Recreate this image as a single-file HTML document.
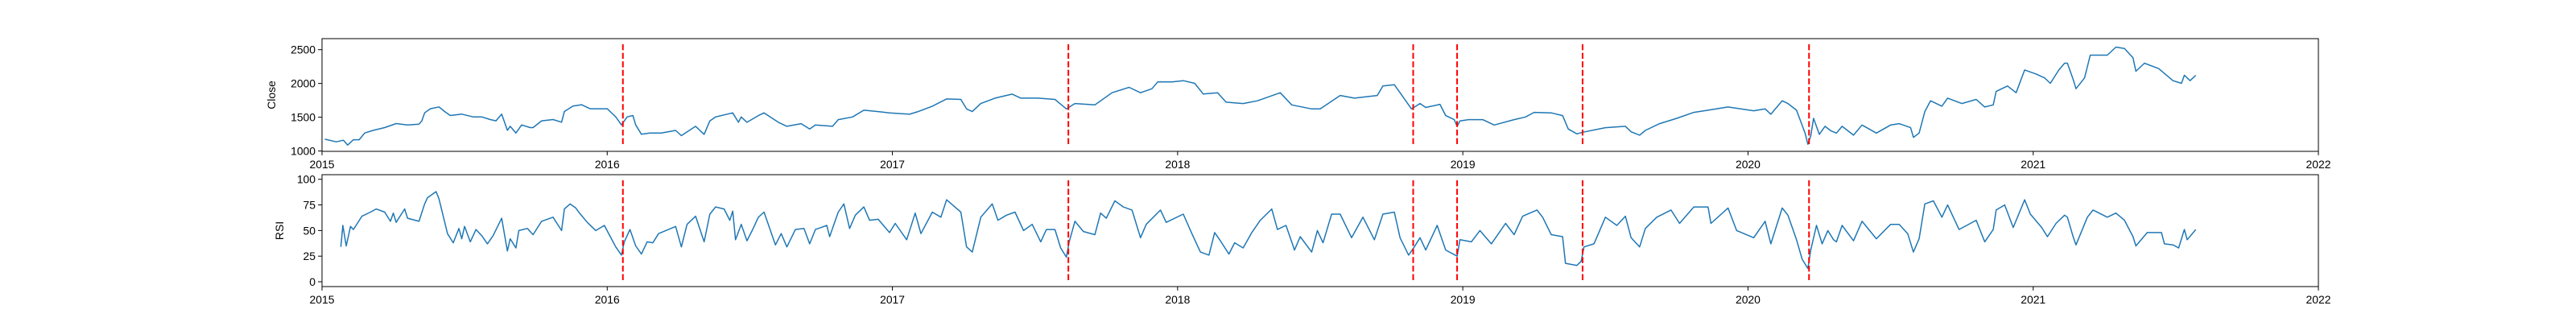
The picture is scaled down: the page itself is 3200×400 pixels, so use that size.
<!DOCTYPE html>
<html><head><meta charset="utf-8"><style>
html,body{margin:0;padding:0;background:#fff;}
svg{display:block;font-family:"Liberation Sans","DejaVu Sans",sans-serif;}
</style></head><body>
<svg id="chart" width="3200" height="400" viewBox="0 0 3200 400" xmlns="http://www.w3.org/2000/svg"></svg>
<script>
const priceDates=[2015.01,2015.05,2015.075,2015.09,2015.11,2015.13,2015.15,2015.18,2015.22,2015.26,2015.30,2015.34,2015.35,2015.36,2015.38,2015.41,2015.43,2015.45,2015.49,2015.53,2015.56,2015.59,2015.61,2015.63,2015.65,2015.66,2015.68,2015.70,2015.73,2015.74,2015.77,2015.81,2015.84,2015.85,2015.88,2015.91,2015.94,2015.98,2016.0,2016.03,2016.05,2016.07,2016.09,2016.10,2016.12,2016.15,2016.19,2016.24,2016.26,2016.31,2016.34,2016.36,2016.38,2016.44,2016.46,2016.47,2016.49,2016.53,2016.55,2016.60,2016.63,2016.68,2016.71,2016.73,2016.79,2016.81,2016.86,2016.90,2016.95,2016.99,2017.06,2017.09,2017.14,2017.19,2017.24,2017.26,2017.28,2017.31,2017.36,2017.42,2017.45,2017.51,2017.57,2017.61,2017.64,2017.71,2017.77,2017.83,2017.87,2017.91,2017.93,2017.98,2018.02,2018.06,2018.09,2018.14,2018.17,2018.23,2018.28,2018.36,2018.40,2018.47,2018.50,2018.57,2018.62,2018.70,2018.72,2018.76,2018.78,2018.82,2018.85,2018.87,2018.92,2018.94,2018.97,2018.98,2018.99,2019.02,2019.07,2019.11,2019.18,2019.22,2019.25,2019.31,2019.35,2019.37,2019.40,2019.42,2019.50,2019.57,2019.59,2019.62,2019.64,2019.69,2019.75,2019.81,2019.86,2019.93,2020.02,2020.06,2020.08,2020.12,2020.14,2020.17,2020.20,2020.21,2020.22,2020.23,2020.25,2020.27,2020.29,2020.31,2020.33,2020.37,2020.40,2020.45,2020.50,2020.53,2020.57,2020.58,2020.60,2020.62,2020.64,2020.68,2020.70,2020.75,2020.80,2020.83,2020.86,2020.87,2020.91,2020.94,2020.97,2021.01,2021.04,2021.06,2021.09,2021.11,2021.12,2021.14,2021.15,2021.18,2021.20,2021.26,2021.29,2021.32,2021.35,2021.36,2021.39,2021.44,2021.49,2021.52,2021.53,2021.55,2021.57];
const priceValues=[1175,1135,1160,1088,1167,1167,1267,1306,1346,1406,1386,1398,1446,1565,1625,1653,1585,1525,1545,1505,1505,1466,1446,1545,1306,1366,1267,1386,1346,1346,1446,1466,1426,1585,1665,1685,1625,1625,1625,1505,1386,1505,1525,1386,1247,1266,1267,1305,1227,1365,1246,1445,1504,1564,1425,1504,1425,1524,1564,1425,1365,1405,1325,1385,1365,1464,1504,1604,1584,1564,1544,1584,1663,1771,1763,1623,1584,1703,1783,1842,1783,1783,1763,1623,1703,1683,1862,1942,1862,1922,2022,2022,2041,2002,1843,1862,1723,1703,1743,1862,1683,1623,1623,1822,1783,1822,1962,1982,1862,1623,1703,1644,1691,1524,1465,1365,1445,1465,1465,1385,1465,1504,1572,1564,1524,1325,1253,1277,1345,1365,1285,1234,1305,1405,1484,1572,1604,1652,1596,1624,1544,1743,1703,1604,1266,1100,1226,1484,1246,1365,1300,1266,1365,1234,1385,1266,1385,1405,1345,1202,1266,1584,1743,1663,1783,1703,1763,1652,1683,1882,1962,1862,2200,2140,2081,2002,2200,2300,2300,2061,1922,2081,2419,2419,2538,2518,2379,2180,2300,2220,2041,2002,2121,2041,2121];
const rsiDates=[2015.066,2015.073,2015.085,2015.10,2015.11,2015.14,2015.17,2015.19,2015.22,2015.24,2015.25,2015.26,2015.29,2015.30,2015.34,2015.36,2015.37,2015.40,2015.41,2015.44,2015.46,2015.48,2015.49,2015.50,2015.52,2015.54,2015.56,2015.58,2015.60,2015.63,2015.65,2015.66,2015.68,2015.69,2015.72,2015.74,2015.77,2015.81,2015.84,2015.85,2015.87,2015.89,2015.90,2015.93,2015.96,2015.99,2016.03,2016.05,2016.06,2016.08,2016.10,2016.12,2016.14,2016.16,2016.18,2016.24,2016.26,2016.28,2016.31,2016.34,2016.36,2016.38,2016.41,2016.43,2016.44,2016.45,2016.47,2016.49,2016.51,2016.53,2016.55,2016.59,2016.61,2016.63,2016.66,2016.69,2016.71,2016.73,2016.77,2016.78,2016.81,2016.83,2016.85,2016.87,2016.90,2016.92,2016.95,2016.99,2017.01,2017.05,2017.08,2017.10,2017.14,2017.17,2017.19,2017.24,2017.26,2017.28,2017.31,2017.35,2017.37,2017.40,2017.43,2017.46,2017.49,2017.52,2017.54,2017.57,2017.59,2017.61,2017.62,2017.64,2017.67,2017.71,2017.73,2017.75,2017.78,2017.81,2017.84,2017.87,2017.89,2017.94,2017.96,2018.02,2018.05,2018.08,2018.11,2018.13,2018.15,2018.18,2018.20,2018.23,2018.26,2018.29,2018.33,2018.35,2018.38,2018.41,2018.43,2018.47,2018.49,2018.51,2018.54,2018.57,2018.61,2018.65,2018.69,2018.72,2018.76,2018.78,2018.81,2018.83,2018.85,2018.87,2018.91,2018.94,2018.98,2018.99,2019.03,2019.06,2019.10,2019.15,2019.18,2019.21,2019.26,2019.28,2019.31,2019.35,2019.36,2019.40,2019.415,2019.425,2019.46,2019.50,2019.54,2019.57,2019.59,2019.62,2019.64,2019.68,2019.73,2019.76,2019.81,2019.86,2019.87,2019.93,2019.96,2020.02,2020.06,2020.08,2020.12,2020.14,2020.17,2020.19,2020.21,2020.22,2020.24,2020.26,2020.28,2020.30,2020.31,2020.33,2020.37,2020.40,2020.45,2020.50,2020.53,2020.56,2020.58,2020.60,2020.62,2020.65,2020.68,2020.70,2020.74,2020.80,2020.83,2020.86,2020.87,2020.90,2020.93,2020.97,2020.99,2021.03,2021.05,2021.08,2021.11,2021.12,2021.14,2021.15,2021.19,2021.21,2021.26,2021.29,2021.32,2021.35,2021.36,2021.40,2021.45,2021.46,2021.49,2021.51,2021.53,2021.54,2021.57];
const rsiValues=[34,55,35,54,51,64,68,71,68,59,67,58,71,62,59,76,82,88,81,47,38,52,42,54,39,51,45,37,45,62,30,42,33,50,52,46,59,63,50,71,76,72,68,58,50,55,34,26,39,51,35,27,39,38,47,54,34,56,64,39,66,73,71,60,69,41,56,40,51,63,68,36,47,34,51,52,37,51,55,44,68,76,52,65,73,60,61,48,57,41,67,47,68,63,80,68,34,29,63,76,60,65,68,50,56,39,51,51,33,24,39,59,49,46,67,62,79,73,70,43,56,70,58,66,47,29,26,48,40,27,38,33,48,60,71,51,55,31,44,29,50,38,66,66,43,63,41,66,68,43,26,34,43,31,55,31,25,41,39,50,37,57,46,64,70,63,46,44,18,16,20,34,37,63,55,64,43,34,52,63,70,57,73,73,57,72,50,43,59,37,72,65,41,22,13,31,55,37,50,41,39,55,40,59,42,56,56,47,29,42,76,79,63,75,51,60,39,51,70,75,53,80,66,53,44,57,65,63,44,36,63,70,63,67,60,44,35,48,48,37,36,33,51,41,51];
const eventDates=[2016.055,2017.617,2018.826,2018.98,2019.42,2020.214];
const yearTicks=[2015,2016,2017,2018,2019,2020,2021,2022];
const closeTicks=[1000,1500,2000,2500];
const rsiTicks=[0,25,50,75,100];

const NS='http://www.w3.org/2000/svg';
const svg=document.getElementById('chart');
const L=400,R=2880;
const xS=v=>L+(v-2015)*(R-L)/7;
const P1={top:48,bot:188,min:995,max:2663};
const P2={top:217,bot:356,min:-4.7,max:104.5};
const yS=(p,v)=>p.bot-(v-p.min)*(p.bot-p.top)/(p.max-p.min);
function mk(tag,attrs,parent){const e=document.createElementNS(NS,tag);for(const k in attrs)e.setAttribute(k,attrs[k]);(parent||svg).appendChild(e);return e;}

function panel(p,name,dates,vals,ticks,title){
  const g=mk('g',{});
  
  
  let d='';dates.forEach((t,i)=>{d+=(i?'L':'M')+xS(t).toFixed(1)+' '+yS(p,vals[i]).toFixed(1);});
  const line=mk('path',{d:d,fill:'none',stroke:'#1f77b4','stroke-width':1.5,'stroke-linejoin':'round'},g);
  
  
  const h=p.bot-p.top;
  eventDates.forEach(t=>{
    const v=mk('line',{x1:xS(t),x2:xS(t),y1:p.top+h*0.05,y2:p.bot-h*0.05,stroke:'#ff0000','stroke-width':2,'stroke-dasharray':'7.4 3.2'},g);
    
    
  });
  const fr=mk('rect',{x:L,y:p.top,width:R-L,height:h,fill:'none',stroke:'#000','stroke-width':1},g);
  
  
  yearTicks.forEach(t=>{
    const x=xS(t);
    mk('line',{x1:x,x2:x,y1:p.bot,y2:p.bot+4.9,stroke:'#000','stroke-width':1},g);
    const tx=mk('text',{x:x,y:p.bot+21,'text-anchor':'middle','font-size':'13.9px',fill:'#000'},g);
    tx.textContent=t;
    
    
  });
  ticks.forEach(t=>{
    const y=yS(p,t);
    mk('line',{x1:L-4.9,x2:L,y1:y,y2:y,stroke:'#000','stroke-width':1},g);
    const tx=mk('text',{x:L-8,y:y+5,'text-anchor':'end','font-size':'13.9px',fill:'#000'},g);
    tx.textContent=t;
    
    
  });
  const tx0=ticks.length===4?342:352;
  const cy=(p.top+p.bot)/2;
  const tt=mk('text',{x:tx0,y:cy,'text-anchor':'middle','font-size':'13.9px',fill:'#000',transform:'rotate(-90 '+tx0+' '+cy+')'},g);
  tt.textContent=title;
  
  
}
panel(P1,'close',priceDates,priceValues,closeTicks,'Close');
panel(P2,'rsi',rsiDates,rsiValues,rsiTicks,'RSI');
</script>
</body></html>
